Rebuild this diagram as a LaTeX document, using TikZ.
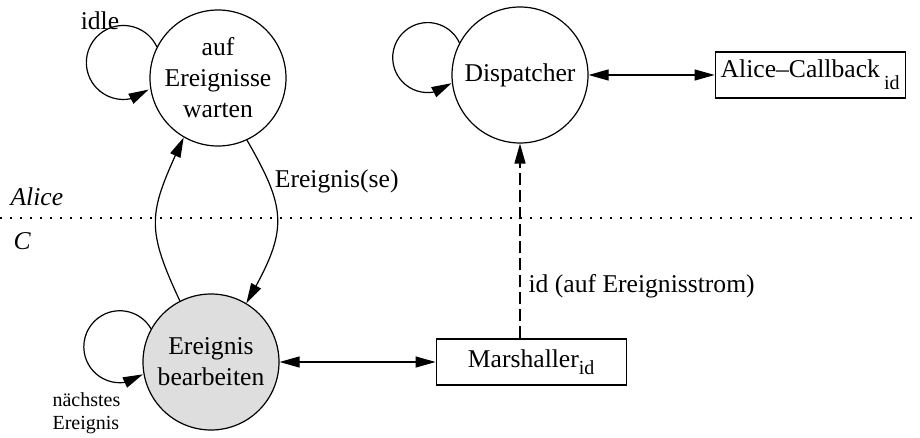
\documentclass[tikz,border=0pt]{standalone}
\usepackage{fontspec}
\setmainfont{Liberation Serif}
\usetikzlibrary{arrows.meta,bending,positioning}
\definecolor{stategray}{HTML}{DEDEDE}

\begin{document}
\begin{tikzpicture}[
    x=0.5pt, y=-0.5pt,
    line width=0.6pt,
    font=\fontsize{12.8}{15.5}\selectfont,
    state/.style={draw, circle, minimum size=68pt, inner sep=0pt, align=center},
    box/.style={draw, minimum width=95pt, minimum height=23pt, inner sep=2pt},
    arr/.style={-{Triangle[length=10pt, width=5.5pt]}},
    dblarr/.style={{Triangle[length=10pt, width=5.5pt]}-{Triangle[length=10pt, width=5.5pt]}},
    dasharr/.style={arr, dash pattern=on 6pt off 2.5pt},
    lbl/.style={inner sep=0pt},
    side/.style={lbl, font=\fontsize{12.8}{15.5}\selectfont\itshape},
    note/.style={lbl, align=left, font=\fontsize{10}{11.5}\selectfont},
  ]
  \useasboundingbox (0,0) rectangle (920,438);

  % ===== states =====
  \node[state] (wait) at (218,78) {auf\\Ereignisse\\warten};
  \node[state, fill=stategray] (bearb) at (211,362) {Ereignis\\bearbeiten};
  \node[state] (disp) at (520,75) {Dispatcher};

  % ===== boxes =====
  \node[box, right=63pt of disp] (callback)
      {Alice--Callback\,\raisebox{-6pt}{\fontsize{10}{12}\selectfont id}};
  \node[box, right=78pt of bearb] (marsh)
      {Marshaller\raisebox{-3.5pt}{\fontsize{10}{12}\selectfont id}};

  % Alice / C boundary
  \draw[dash pattern=on 1pt off 4pt] (0,218) -- (920,218);
  \node[side, anchor=west] (alice) at (10,197) {Alice};
  \node[side, anchor=west] (clang) at (13,241) {C};

  % self loops (last piece kept long so the tip sits right)
  \draw[arr] (wait.153) arc[start angle=25, end angle=223, radius=18.5pt]
                        arc[start angle=223, end angle=313, radius=18.5pt];
  \node[lbl] (idle) at (100,21) {idle};
  \draw[arr] (disp.152) arc[start angle=25, end angle=223, radius=17.5pt]
                        arc[start angle=223, end angle=313, radius=17.5pt];
  \draw[arr] (bearb.151) arc[start angle=30, end angle=220, radius=18pt]
                         arc[start angle=220, end angle=310, radius=18pt];
  \node[note, anchor=west] (next) at (52,413) {nächstes\\Ereignis};

  % between the states
  \draw[arr] (bearb.117) to[out=115, in=245, looseness=1.3] (wait.240);
  \draw[arr] (wait.295) to[out=-60, in=60, looseness=1.3]
      node[lbl, pos=0.22, right=3pt] {Ereignis(se)} (bearb.59);

  % two-way links
  \draw[dblarr] (disp) -- (callback);
  \draw[dblarr] (bearb) -- (marsh);

  % event stream
  \draw[dasharr] (marsh.north -| disp.south) --
      node[lbl, pos=0.27, right=4pt] {id (auf Ereignisstrom)} (disp.south);

\end{tikzpicture}
\end{document}
